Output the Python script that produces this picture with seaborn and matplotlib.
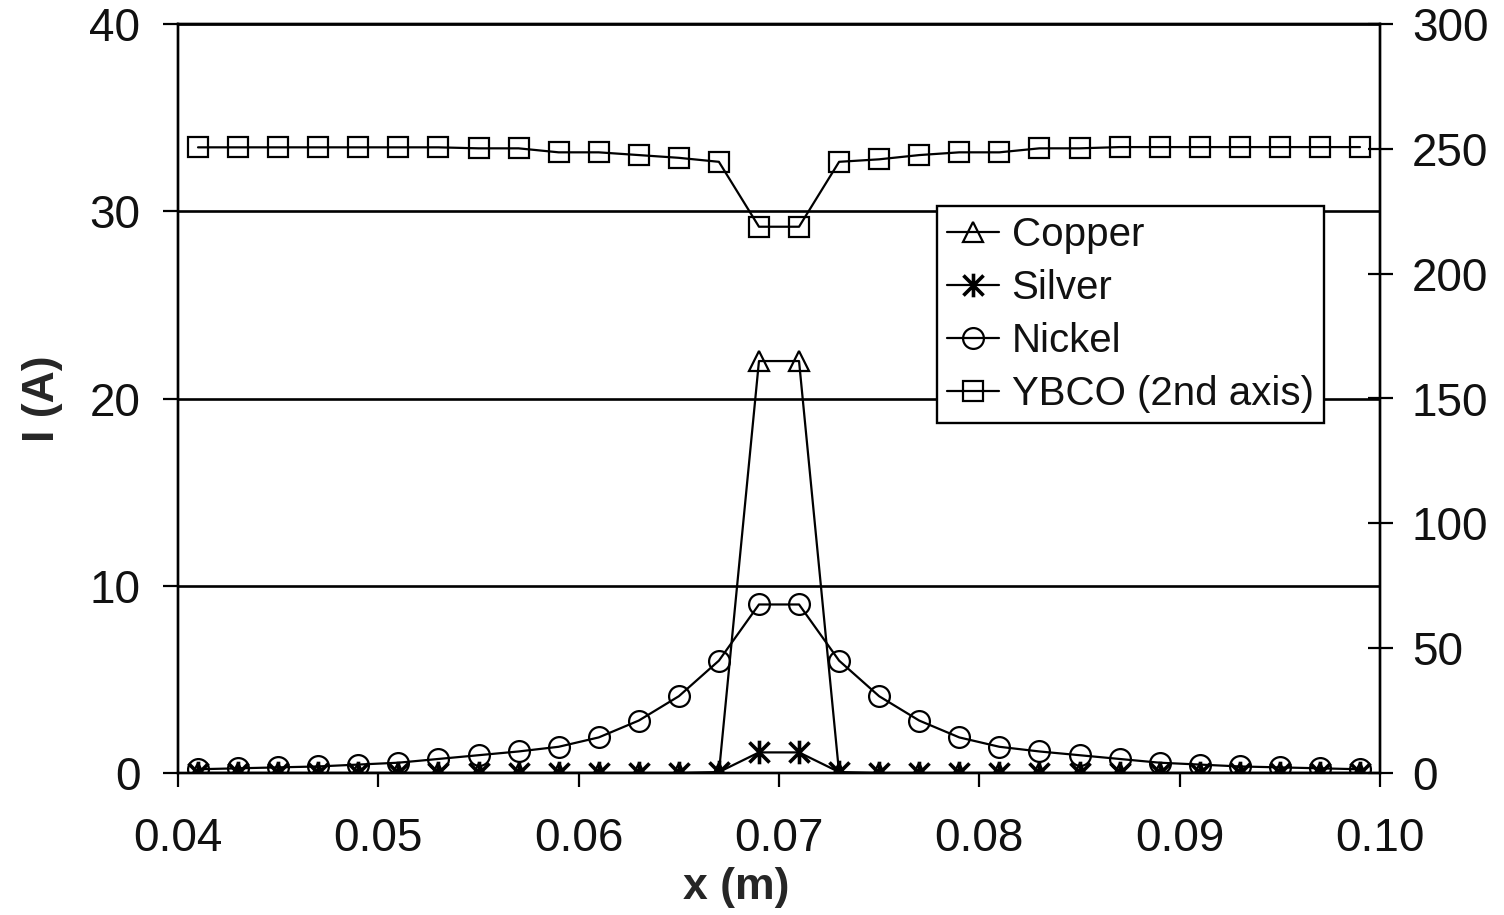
import matplotlib
matplotlib.use("Agg")
import matplotlib.pyplot as plt
import seaborn as sns
import pandas as pd
from matplotlib.lines import Line2D
from matplotlib.path import Path

x_m = [0.041, 0.043, 0.045, 0.047, 0.049, 0.051, 0.053, 0.055, 0.057, 0.059,
       0.061, 0.063, 0.065, 0.067, 0.069, 0.071, 0.073, 0.075, 0.077, 0.079,
       0.081, 0.083, 0.085, 0.087, 0.089, 0.091, 0.093, 0.095, 0.097, 0.099]
copper = [0, 0, 0, 0, 0, 0, 0, 0, 0, 0,
          0, 0, 0, 0, 22.0, 22.0, 0, 0, 0, 0,
          0, 0, 0, 0, 0, 0, 0, 0, 0, 0]
silver = [0, 0, 0, 0, 0, 0, 0, 0, 0, 0,
          0, 0, 0, 0.05, 1.1, 1.1, 0.05, 0, 0, 0,
          0, 0, 0, 0, 0, 0, 0, 0, 0, 0]
nickel = [0.2, 0.25, 0.3, 0.35, 0.45, 0.55, 0.75, 0.95, 1.15, 1.4,
          1.9, 2.8, 4.1, 6.0, 9.0, 9.0, 6.0, 4.1, 2.8, 1.9,
          1.4, 1.15, 0.95, 0.75, 0.55, 0.45, 0.35, 0.3, 0.25, 0.2]
ybco = [250.6, 250.6, 250.6, 250.6, 250.6, 250.6, 250.6, 250.2, 250.2, 248.6,
        248.6, 247.5, 246.4, 244.8, 218.8, 218.8, 244.8, 245.8, 247.5, 248.6,
        248.6, 250.2, 250.2, 250.7, 250.7, 250.7, 250.7, 250.7, 250.7, 250.7]

series_labels = ["Copper", "Silver", "Nickel", "YBCO (2nd axis)"]
x_ticks = [0.04, 0.05, 0.06, 0.07, 0.08, 0.09, 0.10]
x_ticklabels = ["0.04", "0.05", "0.06", "0.07", "0.08", "0.09", "0.10"]
y_left_ticks = [0, 10, 20, 30, 40]
y_right_ticks = [0, 50, 100, 150, 200, 250, 300]

sns.set_theme(style="white")
plt.rcParams['font.family'] = ['Liberation Sans', 'DejaVu Sans']
plt.rcParams['text.color'] = '#111111'

# Excel-like star marker: vertical stroke plus an X
star = Path([(0, -1), (0, 1), (-0.85, -0.85), (0.85, 0.85), (-0.85, 0.85), (0.85, -0.85)],
            [Path.MOVETO, Path.LINETO, Path.MOVETO, Path.LINETO, Path.MOVETO, Path.LINETO])

df = pd.DataFrame({"x": x_m, "Copper": copper, "Silver": silver,
                   "Nickel": nickel, "YBCO": ybco})

fig = plt.figure(figsize=(15.04, 9.15), dpi=100)
ax = fig.add_axes([178/1504, 1 - 773/915, (1380-178)/1504, (773-24)/915])
ax2 = ax.twinx()

lw = 1.6
ms = 15
mew = 1.6
styles = {
    "Copper": dict(marker="^", markersize=ms, markerfacecolor="none",
                   markeredgecolor="black", markeredgewidth=mew),
    "Silver": dict(marker=star, markersize=17, markeredgecolor="black",
                   markerfacecolor="black", markeredgewidth=2.6),
    "Nickel": dict(marker="o", markersize=ms, markerfacecolor="none",
                   markeredgecolor="black", markeredgewidth=mew),
    "YBCO": dict(marker="s", markersize=ms, markerfacecolor="none",
                 markeredgecolor="black", markeredgewidth=mew),
}
for name in ["Copper", "Silver", "Nickel"]:
    sns.lineplot(data=df, x="x", y=name, ax=ax, color="black", lw=lw,
                 legend=False, **styles[name])
sns.lineplot(data=df, x="x", y="YBCO", ax=ax2, color="black", lw=lw,
             legend=False, **styles["YBCO"])

ax.set_xlim(0.04, 0.10)
ax.set_ylim(0, 40)
ax2.set_ylim(0, 300)
ax.set_xticks(x_ticks)
ax.set_xticklabels(x_ticklabels)
ax.set_yticks(y_left_ticks)
ax2.set_yticks(y_right_ticks)

ax.yaxis.grid(True, color="black", lw=1.9)
ax.xaxis.grid(False)
ax2.grid(False)
for a in (ax, ax2):
    for s in a.spines.values():
        s.set_color("black")
        s.set_linewidth(1.7)
        s.set_visible(True)

fs = 33
ax.tick_params(axis="y", direction="out", length=11, width=1.6, pad=16,
               labelsize=fs, colors="black", left=True, labelcolor="#111111")
ax.tick_params(axis="x", direction="out", length=10, width=1.6, pad=22,
               labelsize=fs, colors="black", bottom=True, labelcolor="#111111")
ax2.tick_params(axis="y", direction="inout", length=18, width=1.6, pad=14,
                labelsize=fs, colors="black", right=True, labelcolor="#111111")

ax.set_xlabel("x (m)", fontsize=32, fontweight="bold")
ax.set_ylabel("I (A)", fontsize=32, fontweight="bold")
ax2.set_ylabel("")
ax.xaxis.set_label_coords((736-178)/1202, (773-867)/749)
ax.xaxis.label.set_va("top")
ax.yaxis.set_label_coords((63-178)/1202, 0.5)

handles = [Line2D([], [], color="black", lw=lw, **styles[k])
           for k in ["Copper", "Silver", "Nickel", "YBCO"]]
leg = ax2.legend(handles, series_labels, loc="upper left",
                 bbox_to_anchor=(937/1504, 1 - 206/915),
                 bbox_transform=fig.transFigure, fontsize=29,
                 frameon=True, fancybox=False, framealpha=1, edgecolor="black",
                 handlelength=1.3, handletextpad=0.3, labelspacing=0.37,
                 borderpad=0.25, borderaxespad=0)
leg.get_frame().set_linewidth(1.7)

fig.savefig("out.png", dpi=100)
